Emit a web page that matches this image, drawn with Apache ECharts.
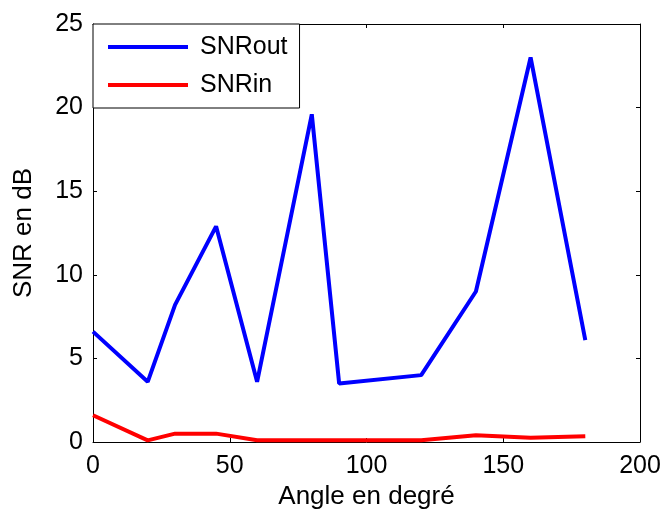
<!DOCTYPE html>
<html>
<head>
<meta charset="utf-8">
<script src="https://cdn.jsdelivr.net/npm/echarts@6/dist/echarts.min.js"></script>
<style>
  html, body { margin: 0; padding: 0; background: #fff; }
  #chart { width: 667px; height: 513px; }
</style>
</head>
<body>
<div id="chart"></div>
<script>
// angles (deg) and SNR values (dB)
const angles = [0, 20, 30, 45, 60, 80, 90, 120, 140, 160, 180];
const snrOut = [6.6, 3.6, 8.2, 12.9, 3.6, 19.6, 3.5, 4.0, 9.0, 23.0, 6.1];
const snrIn = [1.6, 0.1, 0.5, 0.5, 0.1, 0.1, 0.1, 0.1, 0.4, 0.25, 0.35];
const xTicks = [0, 200, 50];
const yTicks = [0, 25, 5];

const font = "Liberation Sans, Arial, sans-serif";
const chart = echarts.init(document.getElementById("chart"));

const pairs = (ys) => angles.map((a, i) => [a, ys[i]]);

const axLine = { show: true, onZero: false, lineStyle: { color: "#000", width: 1 } };
const tick = { show: true, inside: true, length: 4, lineStyle: { color: "#000" } };
const lbl = { color: "#000", fontSize: 25, fontFamily: font };
const ttl = { color: "#000", fontSize: 26, fontFamily: font };

let option = {
  animation: false,
  grid: { left: 93, right: 27, top: 24, bottom: 71, outerBoundsMode: "none", containLabel: false },
  legend: {
    orient: "vertical",
    left: 93,
    top: 24,
    icon: "rect",
    itemWidth: 80,
    itemHeight: 4,
    itemGap: 12,
    padding: [10, 12, 10, 15],
    borderColor: "#000",
    borderWidth: 1,
    backgroundColor: "#fff",
    textStyle: { color: "#000", fontSize: 25, fontFamily: font, lineHeight: 26, padding: [0, 0, 0, 7] },
    data: ["SNRout", "SNRin"],
  },
  xAxis: [
    {
      type: "value",
      min: xTicks[0],
      max: xTicks[1],
      interval: xTicks[2],
      position: "bottom",
      axisLine: axLine,
      axisTick: tick,
      splitLine: { show: false },
      axisLabel: Object.assign({ margin: 12 }, lbl),
      name: "Angle en degré",
      nameLocation: "middle",
      nameGap: 36,
      nameTextStyle: ttl,
    },
    {
      type: "value",
      min: xTicks[0],
      max: xTicks[1],
      interval: xTicks[2],
      position: "top",
      axisLine: axLine,
      axisTick: tick,
      splitLine: { show: false },
      axisLabel: { show: false },
    },
  ],
  yAxis: [
    {
      type: "value",
      min: yTicks[0],
      max: yTicks[1],
      interval: yTicks[2],
      position: "left",
      axisLine: axLine,
      axisTick: tick,
      splitLine: { show: false },
      axisLabel: Object.assign({ margin: 10 }, lbl),
      name: "SNR en dB",
      nameLocation: "middle",
      nameGap: 56,
      nameTextStyle: ttl,
    },
    {
      type: "value",
      min: yTicks[0],
      max: yTicks[1],
      interval: yTicks[2],
      position: "right",
      axisLine: axLine,
      axisTick: tick,
      splitLine: { show: false },
      axisLabel: { show: false },
    },
  ],
  series: [
    {
      name: "SNRout",
      type: "line",
      data: pairs(snrOut),
      showSymbol: false,
      symbol: "none",
      lineStyle: { color: "#0000ff", width: 4 },
      itemStyle: { color: "#0000ff" },
    },
    {
      name: "SNRin",
      type: "line",
      data: pairs(snrIn),
      showSymbol: false,
      symbol: "none",
      lineStyle: { color: "#ff0000", width: 4 },
      itemStyle: { color: "#ff0000" },
    },
  ],
};

chart.setOption(option);
</script>
</body>
</html>
